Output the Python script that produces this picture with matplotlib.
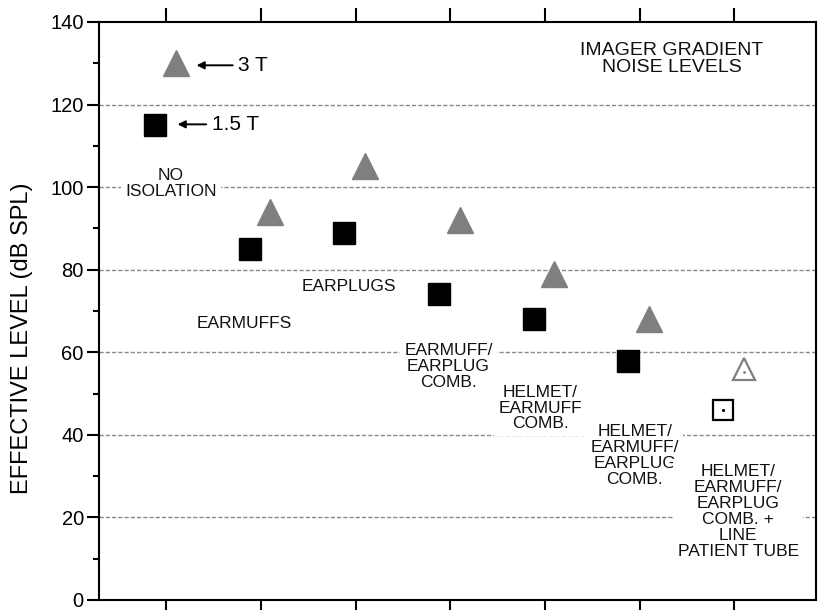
import numpy as np
import matplotlib.pyplot as plt
from matplotlib.ticker import MultipleLocator

plt.rcParams['font.family'] = ['Liberation Sans', 'DejaVu Sans']

# isolation conditions (x positions 0..6)
conditions = ["NO\nISOLATION", "EARMUFFS", "EARPLUGS", "EARMUFF/\nEARPLUG\nCOMB.",
              "HELMET/\nEARMUFF\nCOMB.", "HELMET/\nEARMUFF/\nEARPLUG\nCOMB.",
              "HELMET/\nEARMUFF/\nEARPLUG\nCOMB. +\nLINE\nPATIENT TUBE"]
level_15t = [115, 85, 89, 74, 68, 58, 46]
level_3t = [130, 94, 105, 92, 79, 68, 56]

# label anchor (x, y) in data units for each condition
label_x = [0.05, 0.82, 1.93, 2.98, 3.95, 4.95, 6.04]
label_y = [100.8, 67, 76, 56.5, 46.5, 35, 21.5]

x = np.arange(len(conditions))
fig = plt.figure(figsize=(8.19, 6.10), dpi=100)
ax = fig.add_axes([0.121, 0.0164, 0.875, 0.9476])

for yv in range(20, 140, 20):
    ax.axhline(yv, color='#8a8a8a', lw=1.0, ls=(0, (3, 1.5)), zorder=0)

solid = slice(0, 6)
ax.plot(x[solid] - 0.12, level_15t[solid], 's', color='black', ms=16, zorder=3)
ax.plot(x[solid] + 0.1, level_3t[solid], '^', color='#7f7f7f', ms=19, mec='#7f7f7f', zorder=3)
# last condition drawn as open symbols with a centre dot
ax.plot(x[6] - 0.12, level_15t[6], 's', mfc='white', mec='black', mew=1.6, ms=14, zorder=3)
ax.plot(x[6] - 0.12, level_15t[6], '.', color='black', ms=2.5, zorder=4)
ax.plot(x[6] + 0.1, level_3t[6], '^', mfc='white', mec='#7f7f7f', mew=1.6, ms=16, zorder=3)
ax.plot(x[6] + 0.1, level_3t[6] - 0.8, '.', color='#7f7f7f', ms=2, zorder=4)

for lx, ly, txt in zip(label_x, label_y, conditions):
    ax.text(lx, ly, txt, ha='center', va='center', fontsize=12.5, linespacing=1.08,
            color='#111111', bbox=dict(fc='white', ec='none', pad=3), zorder=2)

ax.text(5.34, 131, "IMAGER GRADIENT\nNOISE LEVELS", ha='center', va='center',
        fontsize=14, linespacing=1.0, color='#111111')

ax.annotate("3 T", xy=(0.29, 129.5), xytext=(0.76, 129.5), fontsize=15, va='center',
            arrowprops=dict(arrowstyle='-|>', color='black', lw=1.4, mutation_scale=11))
ax.annotate("1.5 T", xy=(0.09, 115.2), xytext=(0.48, 115.2), fontsize=15, va='center',
            arrowprops=dict(arrowstyle='-|>', color='black', lw=1.4, mutation_scale=11))

ax.set_xlim(-0.71, 6.86)
ax.set_ylim(0, 140)
ax.set_xticks(x)
ax.set_xticklabels([])
ax.yaxis.set_major_locator(MultipleLocator(20))
ax.yaxis.set_minor_locator(MultipleLocator(10))
ax.tick_params(axis='y', which='major', direction='out', length=9, width=1.5, labelsize=14.5, pad=2)
ax.tick_params(axis='y', which='minor', direction='out', length=4, width=1.5)
ax.tick_params(axis='x', which='major', direction='out', length=10, width=1.5,
               top=True, bottom=True)
ax.set_ylabel("EFFECTIVE LEVEL (dB SPL)", fontsize=17)
ax.yaxis.set_label_coords(-0.092, 0.453)
for sp in ax.spines.values():
    sp.set_linewidth(1.5)

fig.savefig("out.png", dpi=100)
